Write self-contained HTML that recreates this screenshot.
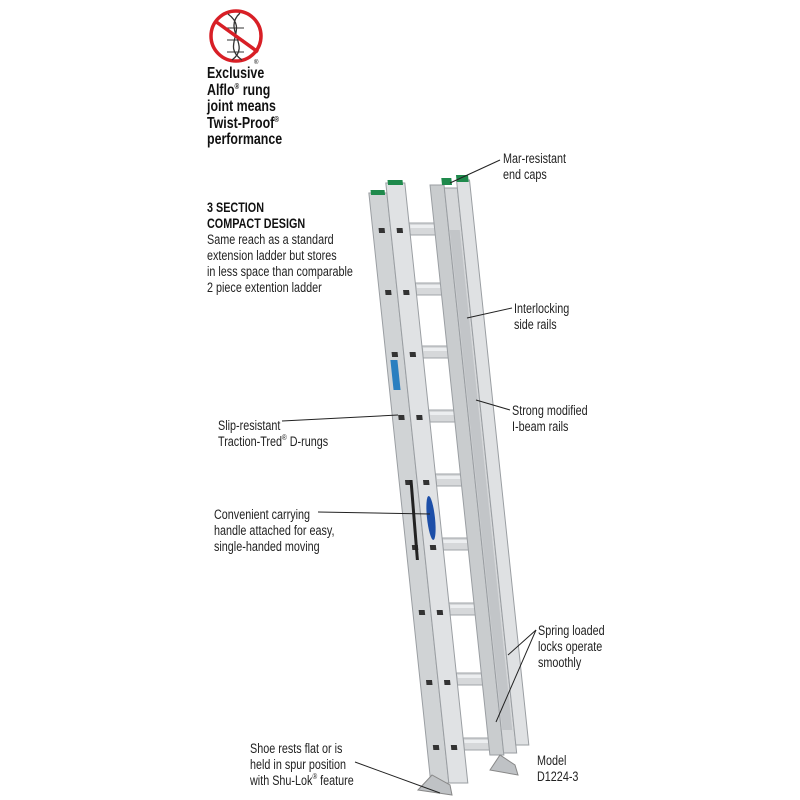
<!DOCTYPE html>
<html><head><meta charset="utf-8"><style>
html,body{margin:0;padding:0;background:#fff;width:800px;height:800px;overflow:hidden}
.t{position:absolute;font-family:"Liberation Sans",sans-serif;font-size:13.5px;line-height:16px;color:#222;transform:scaleX(0.8);transform-origin:0 0;white-space:nowrap}
.b{font-weight:bold;color:#111}
sup{font-size:8px;vertical-align:6px;line-height:0}
</style></head><body>
<svg width="800" height="800" style="position:absolute;left:0;top:0">
<circle cx="236" cy="36" r="25" fill="#fff" stroke="#d81f26" stroke-width="3.5"/>
<path d="M228 14 C250 30,220 45,242 60 M240 13 C222 30,252 45,232 60" stroke="#333" stroke-width="1.3" fill="none"/>
<line x1="227" y1="28" x2="244" y2="28" stroke="#333" stroke-width="1"/>
<line x1="227" y1="40" x2="244" y2="40" stroke="#333" stroke-width="1"/>
<line x1="227" y1="52" x2="244" y2="52" stroke="#333" stroke-width="1"/>
<line x1="215" y1="21" x2="258" y2="52" stroke="#d81f26" stroke-width="3.5"/>
<text x="254" y="64" font-size="6" font-family="Liberation Sans">®</text>
<g transform="matrix(1,0,0.105,1,-19.4,0)">
  <g fill="#d6d8da" stroke="#a0a4a8" stroke-width="1">
    <rect x="405" y="223" width="30" height="12"/>
    <rect x="405" y="283" width="30" height="12"/>
    <rect x="405" y="346" width="30" height="12"/>
    <rect x="405" y="410" width="30" height="12"/>
    <rect x="405" y="474" width="30" height="12"/>
    <rect x="405" y="538" width="30" height="12"/>
    <rect x="405" y="603" width="30" height="12"/>
    <rect x="405" y="673" width="30" height="12"/>
    <rect x="405" y="738" width="30" height="12"/>
  </g>
  <g fill="#eceef0">
    <rect x="406" y="225" width="28" height="3"/><rect x="406" y="285" width="28" height="3"/>
    <rect x="406" y="348" width="28" height="3"/><rect x="406" y="412" width="28" height="3"/>
    <rect x="406" y="476" width="28" height="3"/><rect x="406" y="540" width="28" height="3"/>
    <rect x="406" y="605" width="28" height="3"/><rect x="406" y="675" width="28" height="3"/>
    <rect x="406" y="740" width="28" height="3"/>
  </g>
  <rect x="430" y="185" width="14" height="570" fill="#c9ccce" stroke="#9a9ea2"/>
  <rect x="444" y="188" width="13" height="565" fill="#d5d7d9" stroke="#9a9ea2"/>
  <rect x="457" y="180" width="13" height="565" fill="#dfe1e3" stroke="#9a9ea2"/>
  <rect x="445" y="230" width="10" height="500" fill="#c2c5c8"/>
  <rect x="442" y="178" width="10" height="7" fill="#1f8a4c"/>
  <rect x="457" y="175" width="12" height="7" fill="#1f8a4c"/>
  <rect x="368" y="193" width="18" height="590" fill="#d0d3d5" stroke="#9a9ea2"/>
  <rect x="386" y="183" width="19" height="600" fill="#e0e2e4" stroke="#9a9ea2"/>
  <rect x="370" y="190" width="14" height="5" fill="#1f8a4c"/>
  <rect x="388" y="180" width="15" height="5" fill="#1f8a4c"/>
  <g fill="#333">
    <rect x="374" y="228" width="6" height="5"/><rect x="392" y="228" width="6" height="5"/>
    <rect x="374" y="290" width="6" height="5"/><rect x="392" y="290" width="6" height="5"/>
    <rect x="374" y="352" width="6" height="5"/><rect x="392" y="352" width="6" height="5"/>
    <rect x="374" y="415" width="6" height="5"/><rect x="392" y="415" width="6" height="5"/>
    <rect x="374" y="480" width="6" height="5"/><rect x="392" y="480" width="6" height="5"/>
    <rect x="374" y="545" width="6" height="5"/><rect x="392" y="545" width="6" height="5"/>
    <rect x="374" y="610" width="6" height="5"/><rect x="392" y="610" width="6" height="5"/>
    <rect x="374" y="680" width="6" height="5"/><rect x="392" y="680" width="6" height="5"/>
    <rect x="374" y="745" width="6" height="5"/><rect x="392" y="745" width="6" height="5"/>
  </g>
  <rect x="372" y="360" width="7" height="30" fill="#2a7fc0"/>
  <ellipse cx="396" cy="518" rx="4" ry="22" fill="#1d4fa8"/>
  <path d="M380 480 L378 560" stroke="#222" stroke-width="3"/>
</g>
<path d="M418 790 L432 775 L450 785 L452 795 Z" fill="#bfc2c5" stroke="#888"/>
<path d="M490 770 L500 755 L515 765 L518 775 Z" fill="#bfc2c5" stroke="#888"/>
<g stroke="#222" stroke-width="1" fill="none">
<line x1="500" y1="160" x2="450" y2="183"/>
<line x1="512" y1="308" x2="467" y2="318"/>
<line x1="510" y1="410" x2="476" y2="400"/>
<line x1="282" y1="421" x2="398" y2="415"/>
<line x1="318" y1="512" x2="430" y2="514"/>
<line x1="536" y1="630" x2="508" y2="655"/>
<line x1="536" y1="630" x2="496" y2="722"/>
<line x1="355" y1="762" x2="440" y2="793"/>
</g>
</svg>
<div class="t b" style="left:207px;top:66px;font-size:15.5px;line-height:16.5px">Exclusive<br>Alflo<sup>®</sup> rung<br>joint means<br>Twist-Proof<sup>®</sup><br>performance</div>
<div class="t b" style="left:207px;top:200px">3 SECTION<br>COMPACT DESIGN</div>
<div class="t" style="left:207px;top:232px">Same reach as a standard<br>extension ladder but stores<br>in less space than comparable<br>2 piece extention ladder</div>
<div class="t" style="left:503px;top:151px">Mar-resistant<br>end caps</div>
<div class="t" style="left:514px;top:301px">Interlocking<br>side rails</div>
<div class="t" style="left:512px;top:403px">Strong modified<br>I-beam rails</div>
<div class="t" style="left:218px;top:418px">Slip-resistant<br>Traction-Tred<sup>®</sup> D-rungs</div>
<div class="t" style="left:214px;top:507px">Convenient carrying<br>handle attached for easy,<br>single-handed moving</div>
<div class="t" style="left:538px;top:623px">Spring loaded<br>locks operate<br>smoothly</div>
<div class="t" style="left:250px;top:741px">Shoe rests flat or is<br>held in spur position<br>with Shu-Lok<sup>®</sup> feature</div>
<div class="t" style="left:537px;top:753px">Model<br>D1224-3</div>
</body></html>
